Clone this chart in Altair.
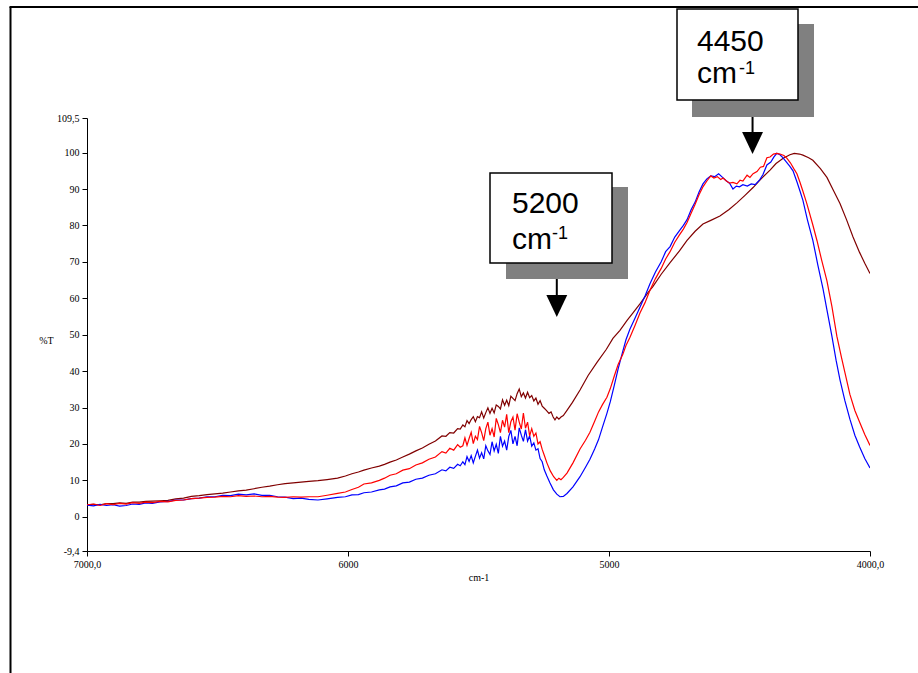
import altair as alt
import pandas as pd

# Transmittance spectra: (wavenumber cm-1, %T)
blue = [
    (7000, 3.2), (6975, 3.0), (6950, 3.4), (6925, 3.1), (6900, 3.3), (6875, 2.9), (6850, 3.1),
    (6825, 3.5), (6800, 3.4), (6775, 3.8), (6750, 3.7), (6720, 4.1), (6690, 4.2), (6660, 4.6),
    (6630, 4.6), (6600, 5.0), (6570, 5.1), (6540, 5.5), (6510, 5.5), (6480, 5.9), (6450, 5.8),
    (6420, 6.2), (6390, 6.0), (6360, 6.3), (6330, 5.9), (6300, 5.9), (6270, 5.5), (6241, 5.4),
    (6210, 5.0), (6180, 5.1), (6150, 4.8), (6115, 4.6), (6080, 4.9), (6040, 5.3), (6010, 5.5),
    (5985, 6.0), (5960, 6.1), (5939, 6.6), (5910, 6.8), (5880, 7.4), (5860, 7.6), (5839, 8.2),
    (5815, 8.5), (5790, 9.3), (5765, 9.5), (5740, 10.3), (5715, 10.6), (5690, 11.4), (5665, 11.8),
    (5640, 12.9), (5625, 12.6), (5610, 13.6), (5595, 13.3), (5580, 14.4), (5570, 14.0),
    (5560, 15.1), (5552, 14.3), (5544, 16.5), (5536, 15.2), (5528, 16.8), (5520, 14.8), (5512, 16.6),
    (5504, 18.3), (5496, 16.1), (5488, 17.6), (5480, 15.9), (5472, 19.5), (5464, 18.1), (5456, 17.1),
    (5448, 20.6), (5440, 18.1), (5432, 19.9), (5424, 17.4), (5416, 22.1), (5408, 19.4), (5400, 20.8),
    (5392, 18.3), (5384, 22.1), (5376, 23.7), (5368, 20.0), (5360, 22.1), (5352, 19.5), (5344, 24.4),
    (5336, 22.4), (5328, 20.7), (5320, 23.9), (5312, 20.8), (5304, 22.2), (5296, 19.4), (5288, 20.3),
    (5280, 18.3), (5272, 18.7), (5264, 16.0), (5256, 15.1), (5248, 12.9),
    (5238, 11.2), (5226, 9.3), (5213, 7.4), (5200, 6.2), (5188, 5.5), (5175, 5.6), (5161, 6.4),
    (5138, 8.2), (5111, 11.0), (5090, 13.6), (5073, 15.8), (5055, 18.6), (5040, 21.2), (5025, 24.6),
    (5008, 28.4), (4995, 31.6), (4980, 36.0), (4965, 40.6), (4947, 45.5), (4935, 48.6), (4920, 51.5),
    (4900, 54.6), (4881, 57.6), (4862, 60.6), (4843, 64.0), (4822, 67.2), (4800, 70.0), (4783, 72.8),
    (4766, 74.2), (4748, 76.8), (4730, 78.6), (4715, 80.0), (4701, 81.6), (4685, 84.4), (4670, 86.4),
    (4655, 89.2), (4640, 91.4), (4625, 92.8), (4610, 93.6), (4595, 93.4), (4580, 94.2), (4565, 93.2),
    (4550, 92.2), (4538, 91.6), (4525, 90.0), (4512, 90.8), (4500, 90.6), (4487, 91.2), (4470, 90.8),
    (4455, 91.4), (4440, 91.2), (4422, 92.6), (4410, 94.0), (4395, 96.6), (4380, 97.4), (4368, 98.8),
    (4357, 99.8), (4345, 99.4), (4334, 98.6), (4320, 97.4), (4307, 96.2), (4295, 95.0), (4280, 92.0),
    (4268, 89.4), (4257, 86.9), (4240, 81.6), (4219, 75.9), (4200, 69.2), (4180, 62.6), (4165, 56.8),
    (4146, 49.6), (4130, 43.0), (4115, 37.6), (4096, 31.8), (4077, 26.8), (4058, 22.4), (4040, 19.2),
    (4020, 16.0), (4000, 13.4),
]

red = [
    (7000, 3.3), (6975, 3.5), (6950, 3.1), (6925, 3.6), (6900, 3.3), (6875, 3.7), (6850, 3.5),
    (6825, 3.9), (6800, 3.7), (6775, 4.0), (6750, 3.9), (6720, 4.2), (6690, 4.1), (6660, 4.5),
    (6630, 4.6), (6600, 5.0), (6570, 5.1), (6540, 5.3), (6510, 5.4), (6480, 5.6), (6450, 5.5),
    (6420, 5.8), (6390, 5.6), (6360, 5.7), (6330, 5.5), (6300, 5.6), (6270, 5.4), (6241, 5.3),
    (6210, 5.5), (6180, 5.4), (6150, 5.5), (6115, 5.5), (6080, 5.9), (6040, 6.4), (6010, 6.8),
    (5985, 7.5), (5960, 8.1), (5939, 9.0), (5910, 9.3), (5880, 10.0), (5860, 10.6), (5839, 11.4),
    (5815, 11.8), (5790, 12.8), (5765, 13.2), (5740, 14.2), (5715, 14.8), (5690, 15.8), (5665, 16.4),
    (5640, 17.9), (5625, 17.5), (5610, 18.8), (5595, 18.3), (5580, 19.8), (5570, 19.1),
    (5560, 19.5), (5552, 21.7), (5544, 19.6), (5536, 21.5), (5528, 23.2), (5520, 20.1), (5512, 22.1),
    (5504, 21.2), (5496, 24.8), (5488, 23.1), (5480, 20.9), (5472, 24.2), (5464, 26.0), (5456, 22.4),
    (5448, 24.2), (5440, 21.9), (5432, 27.0), (5424, 25.3), (5416, 23.1), (5408, 26.5), (5400, 24.6),
    (5392, 28.1), (5384, 23.1), (5376, 26.1), (5368, 27.4), (5360, 23.8), (5352, 28.3), (5344, 26.0),
    (5336, 24.1), (5328, 28.5), (5320, 24.3), (5312, 26.0), (5304, 22.2), (5296, 24.2), (5288, 22.1),
    (5280, 23.0), (5272, 20.0), (5264, 20.6), (5256, 18.5), (5248, 16.9),
    (5238, 14.8), (5225, 12.6), (5212, 11.0), (5200, 10.0), (5192, 10.6), (5184, 10.2), (5175, 10.8),
    (5161, 12.0), (5138, 14.8), (5111, 18.6), (5090, 21.0), (5073, 23.2), (5055, 26.2), (5040, 28.8),
    (5025, 30.8), (5008, 32.8), (4995, 35.2), (4980, 38.6), (4965, 41.8), (4947, 44.6), (4935, 47.0),
    (4920, 49.2), (4900, 52.6), (4881, 56.0), (4862, 58.8), (4843, 62.2), (4822, 65.4), (4800, 68.2),
    (4783, 70.8), (4766, 72.8), (4748, 75.4), (4730, 77.4), (4715, 79.0), (4701, 80.8), (4685, 83.4),
    (4670, 85.8), (4655, 88.4), (4640, 90.6), (4625, 92.2), (4610, 93.6), (4598, 93.0), (4585, 93.4),
    (4572, 92.6), (4563, 93.0), (4550, 92.2), (4538, 91.6), (4525, 91.8), (4510, 91.4), (4498, 92.4),
    (4487, 92.2), (4471, 93.8), (4460, 93.2), (4448, 94.2), (4433, 94.8), (4420, 96.0), (4408, 96.2),
    (4395, 98.6), (4383, 98.8), (4370, 99.6), (4357, 99.8), (4345, 99.6), (4330, 99.2), (4318, 98.4),
    (4305, 97.2), (4292, 95.6), (4280, 94.2), (4268, 91.8), (4257, 89.4), (4242, 86.0), (4220, 80.4),
    (4203, 75.8), (4185, 70.4), (4165, 64.8), (4146, 57.8), (4127, 49.6), (4110, 44.0), (4096, 39.6),
    (4077, 33.6), (4058, 29.2), (4040, 26.0), (4020, 22.6), (4000, 19.6),
]

maroon = [
    (7000, 3.3), (6975, 3.4), (6950, 3.3), (6925, 3.6), (6900, 3.6), (6875, 3.8), (6850, 3.7),
    (6825, 4.0), (6800, 4.0), (6775, 4.2), (6750, 4.3), (6720, 4.4), (6690, 4.5), (6660, 4.9),
    (6630, 5.1), (6600, 5.6), (6570, 5.8), (6540, 6.1), (6510, 6.3), (6480, 6.5), (6450, 6.8),
    (6420, 7.1), (6390, 7.3), (6360, 7.7), (6330, 8.1), (6300, 8.4), (6270, 8.8), (6241, 9.1),
    (6210, 9.3), (6180, 9.5), (6150, 9.7), (6115, 9.9), (6080, 10.2), (6040, 10.6), (6010, 11.2),
    (5985, 11.8), (5960, 12.3), (5939, 12.8), (5910, 13.4), (5880, 13.9), (5860, 14.4), (5839, 15.0),
    (5815, 15.6), (5790, 16.4), (5765, 17.2), (5740, 18.1), (5715, 18.9), (5690, 19.9), (5665, 20.8),
    (5640, 22.2), (5625, 22.1), (5610, 23.1), (5595, 23.0), (5580, 24.2), (5570, 24.1),
    (5560, 25.2), (5552, 24.7), (5544, 26.4), (5536, 25.6), (5528, 26.7), (5520, 27.5), (5512, 26.1),
    (5504, 27.5), (5496, 27.2), (5488, 28.8), (5480, 27.1), (5472, 28.6), (5464, 29.9), (5456, 28.4),
    (5448, 29.8), (5440, 28.5), (5432, 30.7), (5424, 30.3), (5416, 29.6), (5408, 32.1), (5400, 30.6),
    (5392, 32.0), (5384, 30.5), (5376, 33.1), (5368, 32.5), (5360, 31.9), (5352, 33.8), (5344, 35.1),
    (5336, 33.0), (5328, 34.0), (5320, 32.6), (5312, 34.2), (5304, 32.7), (5296, 33.3), (5288, 31.8),
    (5280, 32.6), (5272, 30.9), (5264, 31.9), (5256, 30.4), (5248, 29.8),
    (5240, 29.2), (5230, 28.4), (5222, 28.8), (5214, 27.4), (5207, 26.6), (5200, 27.4), (5192, 26.8),
    (5184, 27.4), (5175, 27.8), (5161, 29.2), (5140, 31.4), (5111, 34.8), (5080, 38.8), (5046, 42.4),
    (5010, 46.0), (4985, 49.0), (4958, 51.2), (4930, 54.0), (4908, 56.0), (4880, 58.6), (4850, 61.6),
    (4832, 63.2), (4800, 66.6), (4766, 69.8), (4730, 73.0), (4701, 75.9), (4670, 78.4), (4640, 80.4),
    (4610, 81.4), (4575, 82.6), (4540, 84.4), (4510, 86.2), (4480, 88.2), (4448, 90.4), (4420, 92.6),
    (4383, 95.2), (4360, 97.0), (4334, 98.4), (4307, 99.4), (4290, 99.8), (4270, 99.6), (4257, 99.3),
    (4235, 98.6), (4219, 97.9), (4190, 95.6), (4165, 93.2), (4140, 89.6), (4115, 86.0), (4090, 81.6),
    (4065, 76.8), (4040, 72.6), (4020, 69.6), (4000, 66.8),
]

x_ticks = [7000, 6000, 5000, 4000]
x_tick_labels = ["7000,0", "6000", "5000", "4000,0"]
y_ticks = [-9.4, 0, 10, 20, 30, 40, 50, 60, 70, 80, 90, 100, 109.5]
y_tick_labels = ["-9,4", "0", "10", "20", "30", "40", "50", "60", "70", "80", "90", "100", "109,5"]

callout_wn = [5200, 4450]
callout_text = ["5200", "4450"]

# Plot-area size in pixels
W, H = 783, 433


def label_expr(values, labels):
    parts = [f"datum.value == {v} ? '{lab}'" for v, lab in zip(values, labels)]
    return " : ".join(parts) + " : datum.label"


x_enc = alt.X(
    "wn:Q",
    title="cm-1",
    scale=alt.Scale(domain=[4000, 7000], reverse=True, nice=False, zero=False),
    axis=alt.Axis(
        values=x_ticks, labelExpr=label_expr(x_ticks, x_tick_labels), grid=False,
        tickSize=5, labelPadding=3, labelFont="Liberation Serif", labelFontSize=10,
        labelColor="black", domainColor="black", tickColor="black", labelFlush=False,
        titleFont="Liberation Serif", titleFontSize=10, titleFontWeight="normal",
        titleColor="black", titleY=26, titleBaseline="middle",
    ),
)
y_enc = alt.Y(
    "t:Q",
    title="%T",
    scale=alt.Scale(domain=[-9.4, 109.5], nice=False, zero=False),
    axis=alt.Axis(
        values=y_ticks, labelExpr=label_expr(y_ticks, y_tick_labels), grid=False,
        tickSize=5, labelPadding=3, labelFont="Liberation Serif", labelFontSize=10,
        labelColor="black", domainColor="black", tickColor="black", labelFlush=False,
        labelOverlap=False,
        titleFont="Liberation Serif", titleFontSize=10, titleFontWeight="normal",
        titleColor="black", titleAngle=0, titleX=-41, titleY=222,
        titleAlign="center", titleBaseline="middle",
    ),
)


def spectrum(points, color):
    df = pd.DataFrame(points, columns=["wn", "t"])
    return alt.Chart(df).mark_line(color=color, strokeWidth=1.2, clip=True).encode(
        x=x_enc, y=y_enc
    )


one = pd.DataFrame({"k": [0]})

# Page frame (top and left border)
frame_left = alt.Chart(one).mark_rule(color="black", strokeWidth=2).encode(
    x=alt.value(-76.5), y=alt.value(-111), y2=alt.value(560)
)
frame_top = alt.Chart(one).mark_rule(color="black", strokeWidth=2).encode(
    x=alt.value(-77.5), x2=alt.value(835), y=alt.value(-111)
)

layers = [
    frame_left, frame_top,
    spectrum(maroon, "#800000"),
    spectrum(blue, "#0000ff"),
    spectrum(red, "#ff0000"),
]

# Callout boxes: shadow, box, text (pixel positions inside the plot group)
boxes = [
    dict(box=(403, 525, 55, 145), shadow=(419, 541, 69, 161), num=(425, 95), cm=(425, 131),
         sup=(465, 121), shaft=(161, 178), head=188),
    dict(box=(590, 711, -109, -18), shadow=(605, 727, -94, -1), num=(610, -67), cm=(610, -35),
         sup=(652, -44), shaft=(-1, 16), head=25),
]

arrow_head = "M-0.95,-1L0.95,-1L0,1Z"

for wn, label, b in zip(callout_wn, callout_text, boxes):
    sx1, sx2, sy1, sy2 = b["shadow"]
    bx1, bx2, by1, by2 = b["box"]
    layers.append(
        alt.Chart(one).mark_rect(color="#808080").encode(
            x=alt.value(sx1), x2=alt.value(sx2), y=alt.value(sy1), y2=alt.value(sy2)
        )
    )
    layers.append(
        alt.Chart(one).mark_rect(fill="white", stroke="black", strokeWidth=1.5).encode(
            x=alt.value(bx1), x2=alt.value(bx2), y=alt.value(by1), y2=alt.value(by2)
        )
    )
    layers.append(
        alt.Chart(one).mark_text(
            text=label, font="Liberation Sans", fontSize=30, align="left",
            baseline="alphabetic", color="black"
        ).encode(x=alt.value(b["num"][0]), y=alt.value(b["num"][1]))
    )
    layers.append(
        alt.Chart(one).mark_text(
            text="cm", font="Liberation Sans", fontSize=30, align="left",
            baseline="alphabetic", color="black"
        ).encode(x=alt.value(b["cm"][0]), y=alt.value(b["cm"][1]))
    )
    layers.append(
        alt.Chart(one).mark_text(
            text="-1", font="Liberation Sans", fontSize=18, align="left",
            baseline="alphabetic", color="black"
        ).encode(x=alt.value(b["sup"][0]), y=alt.value(b["sup"][1]))
    )
    arrow_df = pd.DataFrame({"wn": [wn]})
    layers.append(
        alt.Chart(arrow_df).mark_rule(color="black", strokeWidth=2).encode(
            x=alt.X("wn:Q", title="cm-1"), y=alt.value(b["shaft"][0]), y2=alt.value(b["shaft"][1])
        )
    )
    layers.append(
        alt.Chart(arrow_df).mark_point(
            shape=arrow_head, filled=True, fill="black", stroke="black", strokeWidth=0,
            size=484, opacity=1
        ).encode(x=alt.X("wn:Q", title="cm-1"), y=alt.value(b["head"]))
    )

chart = (
    alt.layer(*layers)
    .properties(
        width=W, height=H,
        autosize=alt.AutoSizeParams(type="none"),
        padding={"left": 87, "top": 118, "right": 48, "bottom": 122},
        background="white",
    )
    .configure_view(stroke="transparent")
)

chart.save("out.html", embed_options={"renderer": "svg", "actions": False})
